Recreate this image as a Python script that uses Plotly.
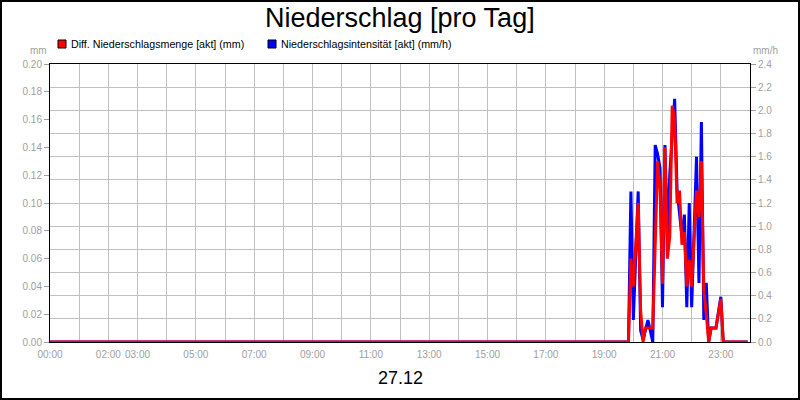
import plotly.graph_objects as go

day = "2023-12-27"

# Niederschlagsintensität [akt] (mm/h) - blue, right axis
blue_times = ["00:00", "19:50", "19:55", "20:00", "20:10", "20:15", "20:20", "20:30",
              "20:40", "20:45", "20:50", "20:55", "21:00", "21:05", "21:10", "21:15",
              "21:25", "21:30", "21:40", "21:45", "21:50", "21:55", "22:00", "22:10",
              "22:15", "22:20", "22:25", "22:30", "22:35", "22:40", "22:50", "23:00",
              "23:05", "23:55"]
blue_values = [0, 0, 1.30, 0.19, 1.30, 0.10, 0.02, 0.19,
               0, 1.70, 1.62, 1.50, 0.30, 1.70, 0.91, 1.45,
               2.10, 1.31, 0.91, 1.10, 0.30, 1.20, 0.30, 1.60,
               0.51, 1.90, 0.19, 0.51, 0, 0.12, 0.12, 0.39,
               0, 0]

# Diff. Niederschlagsmenge [akt] (mm) - red, left axis
red_times = ["00:00", "19:50", "19:55", "20:00", "20:10", "20:15", "20:20", "20:25",
             "20:40", "20:50", "20:55", "21:00", "21:05", "21:10", "21:15", "21:20",
             "21:25", "21:30", "21:35", "21:40", "21:45", "21:50", "21:55", "22:00",
             "22:10", "22:15", "22:20", "22:25", "22:30", "22:35", "22:40", "22:50",
             "23:00", "23:05", "23:55"]
red_values = [0, 0, 0.06, 0.04, 0.10, 0.023, 0, 0.01,
              0.01, 0.13, 0.11, 0.042, 0.14, 0.06, 0.076, 0.17,
              0.16, 0.10, 0.109, 0.07, 0.079, 0.04, 0.059, 0.04,
              0.109, 0.09, 0.13, 0.037, 0.02, 0, 0.01, 0.01,
              0.031, 0, 0]

hours = ["%02d:00" % h for h in range(24)]
hour_labels = ["00:00", "", "02:00", "03:00", "", "05:00", "", "07:00", "", "09:00", "",
               "11:00", "", "13:00", "", "15:00", "", "17:00", "", "19:00", "", "21:00",
               "", "23:00"]

mm_ticks = [i * 0.02 for i in range(11)]
mmh_ticks = [i * 0.2 for i in range(13)]

# plot area in pixels
W, H = 800, 400
L, R, T, B = 50, 50, 64, 58
pw, ph = W - L - R, H - T - B


def px_x(x):
    return (x - L) / pw


def px_y(y):
    return (H - B - y) / ph


grey = "#a0a0a0"
font = "Liberation Sans, Arial, sans-serif"

fig = go.Figure()
fig.add_trace(go.Scatter(
    x=[day + " " + t for t in blue_times], y=blue_values, yaxis="y",
    mode="lines", line=dict(color="#0000ff", width=3), showlegend=False,
    name="Niederschlagsintensität [akt] (mm/h)"))
fig.add_trace(go.Scatter(
    x=[day + " " + t for t in red_times], y=red_values, yaxis="y2",
    mode="lines", line=dict(color="#ff0000", width=3), showlegend=False,
    name="Diff. Niederschlagsmenge [akt] (mm)"))

fig.update_layout(
    width=W, height=H,
    margin=dict(l=L, r=R, t=T, b=B),
    paper_bgcolor="white", plot_bgcolor="white",
    font=dict(family=font, color="black"),
    xaxis=dict(
        range=[day + " 00:00", "2023-12-28 00:00"],
        tickvals=[day + " " + h for h in hours], ticktext=hour_labels,
        tickangle=0, ticklabelstandoff=3, layer="below traces",
        showgrid=True, gridcolor="#c0c0c0", gridwidth=1,
        showline=True, linecolor="black", linewidth=1, mirror=True,
        ticks="", tickfont=dict(size=10, color=grey), zeroline=False,
    ),
    yaxis=dict(
        side="right", range=[0, 2.4], tickvals=mmh_ticks, tickformat=".1f",
        showgrid=True, gridcolor="#c0c0c0", gridwidth=1,
        showline=True, linecolor="black", linewidth=1, mirror=True,
        ticks="outside", ticklen=5, tickcolor=grey,
        tickfont=dict(size=10, color=grey), zeroline=False,
    ),
    yaxis2=dict(
        side="left", overlaying="y", range=[0, 0.2], tickvals=mm_ticks,
        tickformat=".2f", showgrid=False,
        ticks="outside", ticklen=5, tickcolor=grey,
        tickfont=dict(size=10, color=grey), zeroline=False,
    ),
)

annotations = [
    dict(text="Niederschlag [pro Tag]", x=0.5, y=px_y(18), font=dict(size=27)),
    dict(text="27.12", x=0.5, y=px_y(378), font=dict(size=18)),
    dict(text="mm", x=px_x(38), y=px_y(50), font=dict(size=10, color=grey)),
    dict(text="mm/h", x=px_x(765), y=px_y(50), font=dict(size=10, color=grey)),
    dict(text="Diff. Niederschlagsmenge [akt] (mm)", x=px_x(69), y=px_y(44),
         xanchor="left", font=dict(size=10.7)),
    dict(text="Niederschlagsintensität [akt] (mm/h)", x=px_x(279), y=px_y(44),
         xanchor="left", font=dict(size=10.7)),
]
for a in annotations:
    a.setdefault("xanchor", "center")
    fig.add_annotation(xref="paper", yref="paper", yanchor="middle",
                       showarrow=False, **a)

shapes = [
    dict(x0=px_x(58), x1=px_x(66), y0=px_y(48), y1=px_y(40), fillcolor="#ff0000"),
    dict(x0=px_x(268), x1=px_x(276), y0=px_y(48), y1=px_y(40), fillcolor="#0000ff"),
]
for s in shapes:
    fig.add_shape(type="rect", xref="paper", yref="paper",
                  line=dict(color="black", width=1), **s)

# outer frame
fig.add_shape(type="rect", xref="paper", yref="paper",
              x0=px_x(1), x1=px_x(799), y0=px_y(399), y1=px_y(1),
              line=dict(color="black", width=2))

# page body has a default margin; drop it so the figure sits at 0,0
fig.write_html("out.html", config={"displayModeBar": False},
               post_script="document.body.style.margin='0';")
